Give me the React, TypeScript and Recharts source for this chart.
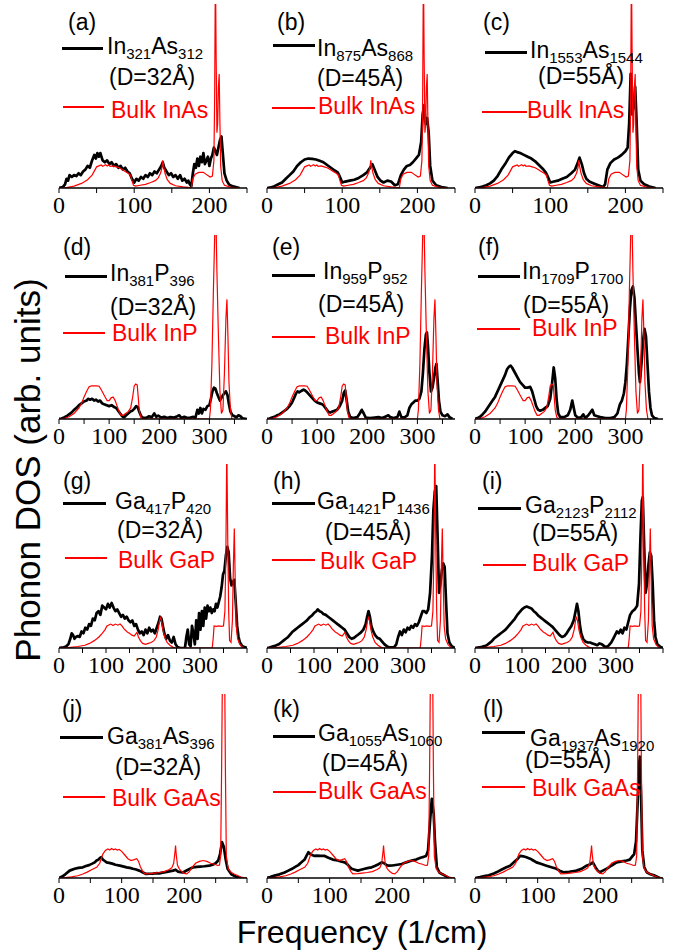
import { LineChart, Line, XAxis, YAxis } from "recharts";

// ---- data: [frequency (1/cm), DOS (fraction of panel height)] ----
const bulkInAs = [[0,0],[10,0.002],[20,0.01],[30,0.025],[38,0.045],[44,0.07],[48,0.1],[50,0.115],[53,0.12],[56,0.125],[58,0.118],[60,0.122],[62,0.127],[64,0.12],[66,0.125],[68,0.118],[72,0.12],[76,0.115],[80,0.11],[84,0.1],[88,0.09],[92,0.08],[95,0.07],[97,0.04],[99,0.015],[102,0.01],[108,0.015],[115,0.02],[122,0.03],[128,0.04],[132,0.055],[135,0.08],[137,0.11],[138,0.15],[139,0.12],[141,0.08],[144,0.045],[148,0.025],[155,0.012],[165,0.006],[172,0.003],[176,0.002],[178,0.05],[181,0.075],[186,0.085],[192,0.085],[197,0.07],[201,0.06],[204,0.065],[206,0.15],[207,0.5],[208,1.2],[209,0.7],[210,0.3],[211,0.35],[212,0.55],[213,0.62],[214,0.35],[215,0.12],[217,0.04],[220,0.015],[228,0.005],[240,0]];
const inAs32 = [[0,0],[5,0.005],[8,0.02],[10,0.05],[12,0.04],[14,0.07],[17,0.06],[20,0.07],[23,0.065],[26,0.08],[29,0.07],[32,0.09],[35,0.1],[38,0.12],[41,0.11],[44,0.15],[47,0.18],[49,0.16],[51,0.19],[53,0.17],[55,0.19],[58,0.15],[61,0.14],[64,0.15],[67,0.13],[70,0.14],[73,0.12],[76,0.13],[79,0.11],[82,0.12],[85,0.1],[88,0.11],[91,0.09],[94,0.08],[97,0.05],[100,0.03],[103,0.05],[106,0.04],[109,0.06],[112,0.05],[115,0.07],[118,0.06],[121,0.08],[124,0.07],[127,0.09],[130,0.08],[133,0.1],[136,0.12],[138,0.14],[140,0.11],[143,0.09],[146,0.07],[149,0.08],[152,0.06],[155,0.07],[158,0.05],[161,0.07],[164,0.04],[167,0.05],[170,0.03],[172,0.04],[174,0.02],[176,0.01],[178,0.08],[180,0.13],[182,0.11],[184,0.16],[186,0.12],[188,0.17],[190,0.14],[192,0.19],[194,0.13],[196,0.15],[198,0.17],[200,0.12],[202,0.16],[204,0.18],[206,0.22],[208,0.2],[210,0.18],[212,0.22],[214,0.26],[216,0.28],[218,0.18],[220,0.08],[223,0.04],[226,0.02],[230,0.01],[235,0.005],[240,0]];
const inAs45 = [[0,0],[5,0.003],[10,0.01],[15,0.02],[20,0.03],[25,0.05],[30,0.07],[35,0.09],[40,0.12],[45,0.14],[50,0.155],[55,0.16],[60,0.158],[65,0.155],[70,0.148],[75,0.14],[80,0.125],[85,0.11],[90,0.095],[94,0.085],[97,0.06],[100,0.03],[104,0.035],[110,0.04],[116,0.045],[122,0.055],[128,0.07],[133,0.085],[137,0.11],[140,0.13],[143,0.1],[147,0.06],[151,0.04],[155,0.03],[160,0.04],[165,0.035],[170,0.015],[174,0.02],[178,0.07],[182,0.1],[186,0.12],[190,0.125],[194,0.14],[198,0.16],[202,0.18],[205,0.25],[207,0.4],[209,0.45],[211,0.35],[213,0.38],[215,0.3],[217,0.12],[220,0.04],[225,0.015],[232,0.005],[240,0]];
const inAs55 = [[0,0],[5,0.003],[10,0.008],[15,0.015],[20,0.025],[25,0.04],[30,0.065],[35,0.1],[40,0.13],[45,0.165],[50,0.19],[53,0.2],[56,0.195],[60,0.19],[65,0.18],[70,0.17],[75,0.16],[80,0.145],[85,0.125],[90,0.105],[94,0.085],[97,0.06],[100,0.03],[105,0.035],[110,0.04],[116,0.05],[122,0.06],[128,0.08],[133,0.1],[136,0.13],[139,0.165],[142,0.13],[145,0.08],[148,0.05],[152,0.035],[158,0.025],[164,0.015],[170,0.005],[173,0.02],[176,0.1],[180,0.135],[185,0.155],[190,0.165],[195,0.18],[200,0.2],[203,0.22],[205,0.35],[207,0.62],[209,0.4],[211,0.45],[213,0.55],[215,0.35],[217,0.1],[220,0.04],[225,0.02],[232,0.008],[240,0]];

const bulkInP = [[0,0],[10,0.003],[20,0.012],[30,0.03],[40,0.06],[45,0.085],[50,0.12],[55,0.15],[60,0.175],[65,0.18],[70,0.18],[75,0.18],[80,0.178],[84,0.16],[88,0.14],[92,0.12],[96,0.1],[100,0.1],[104,0.115],[108,0.12],[112,0.1],[116,0.07],[120,0.04],[124,0.02],[128,0.02],[133,0.03],[138,0.04],[143,0.06],[147,0.12],[150,0.18],[153,0.19],[156,0.185],[158,0.12],[160,0.05],[163,0.01],[168,0],[300,0],[302,0.05],[305,0.3],[308,0.7],[311,1.05],[313,1.1],[315,0.8],[318,0.45],[321,0.15],[324,0.03],[327,0.05],[330,0.25],[333,0.55],[335,0.65],[337,0.45],[339,0.2],[342,0.05],[345,0]];
const inP32 = [[0,0],[5,0.003],[10,0.008],[15,0.015],[20,0.025],[25,0.035],[30,0.05],[35,0.06],[40,0.075],[45,0.085],[50,0.095],[55,0.1],[58,0.11],[62,0.105],[66,0.11],[70,0.1],[74,0.105],[78,0.095],[82,0.1],[86,0.085],[90,0.08],[95,0.075],[100,0.07],[105,0.075],[110,0.065],[114,0.06],[118,0.045],[122,0.03],[126,0.015],[130,0.01],[134,0.02],[138,0.03],[142,0.04],[146,0.045],[150,0.055],[154,0.07],[157,0.065],[160,0.04],[164,0.015],[168,0.005],[175,0.008],[180,0.015],[185,0.01],[190,0.03],[194,0.012],[198,0.018],[204,0.008],[210,0.012],[216,0.005],[222,0.01],[230,0.008],[236,0.015],[240,0.02],[244,0.005],[250,0.012],[256,0.005],[262,0.008],[268,0.012],[272,0.005],[276,0.05],[279,0.03],[282,0.06],[285,0.03],[288,0.055],[292,0.05],[296,0.07],[300,0.075],[303,0.11],[306,0.15],[309,0.17],[312,0.165],[315,0.14],[318,0.12],[321,0.1],[324,0.115],[327,0.13],[330,0.14],[333,0.15],[336,0.13],[339,0.08],[342,0.04],[346,0.02],[350,0.015],[354,0.01],[358,0.02],[362,0.015],[366,0.003],[375,0]];
const inP45 = [[0,0],[5,0.003],[10,0.008],[15,0.012],[20,0.02],[25,0.025],[30,0.035],[35,0.045],[40,0.055],[45,0.07],[50,0.09],[55,0.12],[58,0.14],[61,0.15],[64,0.145],[67,0.15],[70,0.155],[73,0.16],[76,0.155],[80,0.145],[85,0.13],[90,0.115],[95,0.1],[100,0.09],[105,0.085],[110,0.08],[114,0.07],[118,0.055],[122,0.04],[126,0.035],[130,0.04],[135,0.045],[140,0.05],[145,0.07],[150,0.1],[153,0.14],[156,0.155],[159,0.1],[162,0.04],[166,0.01],[172,0.005],[180,0.01],[185,0.03],[189,0.05],[193,0.03],[197,0.008],[205,0.005],[215,0.008],[222,0.01],[230,0.005],[238,0.015],[242,0.02],[246,0.01],[252,0.005],[260,0.01],[264,0.04],[268,0.01],[274,0.008],[280,0.02],[284,0.06],[288,0.08],[292,0.09],[296,0.1],[300,0.1],[304,0.11],[308,0.15],[311,0.25],[314,0.38],[317,0.46],[319,0.47],[321,0.4],[324,0.25],[327,0.15],[330,0.17],[333,0.22],[336,0.28],[338,0.3],[340,0.22],[343,0.1],[346,0.04],[350,0.02],[355,0.015],[360,0.025],[364,0.01],[370,0]];
const inP55 = [[0,0],[5,0.005],[10,0.012],[15,0.025],[20,0.04],[25,0.06],[30,0.08],[35,0.1],[40,0.12],[45,0.15],[50,0.18],[55,0.21],[60,0.24],[64,0.27],[68,0.285],[71,0.29],[74,0.28],[77,0.265],[80,0.25],[85,0.225],[90,0.2],[95,0.185],[100,0.17],[105,0.17],[110,0.175],[114,0.15],[118,0.11],[122,0.07],[126,0.05],[130,0.045],[135,0.05],[140,0.06],[145,0.07],[150,0.11],[154,0.2],[157,0.28],[160,0.22],[163,0.1],[166,0.03],[170,0.01],[178,0.01],[185,0.02],[190,0.05],[194,0.1],[197,0.06],[200,0.02],[206,0.005],[212,0.01],[216,0.025],[220,0.005],[226,0.02],[230,0.035],[234,0.05],[238,0.02],[244,0.015],[250,0.01],[260,0.005],[270,0.005],[278,0.01],[284,0.03],[289,0.08],[293,0.1],[297,0.14],[300,0.2],[303,0.3],[306,0.45],[309,0.6],[312,0.7],[315,0.72],[318,0.66],[321,0.52],[324,0.38],[327,0.25],[329,0.2],[332,0.3],[335,0.42],[338,0.49],[341,0.45],[344,0.3],[347,0.15],[350,0.06],[353,0.02],[358,0.005],[365,0]];

const bulkGaP = [[0,0],[20,0.002],[40,0.008],[55,0.015],[65,0.025],[75,0.04],[85,0.06],[92,0.08],[98,0.1],[102,0.12],[106,0.125],[110,0.13],[115,0.122],[120,0.13],[125,0.124],[130,0.13],[134,0.12],[138,0.105],[142,0.095],[146,0.085],[150,0.08],[155,0.07],[160,0.065],[163,0.075],[166,0.085],[169,0.06],[173,0.04],[178,0.025],[184,0.02],[190,0.025],[196,0.03],[202,0.04],[207,0.06],[211,0.1],[214,0.15],[216,0.165],[218,0.15],[221,0.1],[225,0.06],[230,0.03],[236,0.015],[242,0.005],[248,0],[326,0],[328,0.05],[330,0.12],[335,0.118],[340,0.12],[345,0.118],[350,0.12],[353,0.2],[355,0.5],[357,1.1],[359,0.6],[361,0.2],[363,0.04],[366,0.03],[369,0.15],[371,0.45],[373,0.65],[375,0.35],[377,0.12],[380,0.05],[385,0.02],[392,0]];
const gaP32 = [[0,0],[5,0.002],[10,0.004],[15,0.008],[20,0.02],[24,0.05],[27,0.08],[30,0.07],[33,0.05],[36,0.06],[40,0.065],[44,0.06],[48,0.09],[52,0.08],[56,0.11],[60,0.1],[64,0.13],[68,0.12],[72,0.16],[76,0.15],[80,0.19],[84,0.2],[88,0.18],[92,0.23],[96,0.22],[100,0.21],[104,0.24],[108,0.22],[112,0.245],[116,0.22],[120,0.2],[124,0.21],[128,0.19],[132,0.17],[136,0.18],[140,0.16],[144,0.17],[148,0.15],[152,0.14],[156,0.15],[160,0.12],[164,0.13],[168,0.1],[172,0.08],[176,0.09],[180,0.07],[184,0.1],[188,0.08],[192,0.11],[196,0.09],[200,0.1],[204,0.08],[208,0.11],[212,0.14],[215,0.17],[218,0.16],[221,0.12],[224,0.08],[228,0.05],[232,0.07],[236,0.04],[240,0.03],[244,0.06],[248,0.02],[252,0.005],[258,0],[268,0],[271,0.06],[274,0.1],[277,0.02],[280,0.01],[283,0.12],[286,0.08],[289,0.02],[292,0.15],[295,0.05],[298,0.19],[301,0.1],[304,0.2],[307,0.12],[310,0.22],[313,0.16],[316,0.23],[319,0.2],[322,0.22],[325,0.19],[328,0.21],[331,0.2],[334,0.24],[337,0.22],[340,0.25],[343,0.28],[346,0.33],[349,0.4],[352,0.42],[355,0.5],[358,0.55],[361,0.52],[364,0.38],[367,0.34],[370,0.36],[373,0.37],[376,0.25],[379,0.12],[382,0.06],[385,0.03],[390,0.01],[400,0]];
const gaP45 = [[0,0],[5,0.002],[10,0.006],[15,0.01],[20,0.015],[25,0.02],[30,0.03],[35,0.04],[40,0.05],[45,0.06],[50,0.075],[55,0.09],[60,0.1],[65,0.11],[70,0.12],[75,0.13],[80,0.14],[85,0.15],[90,0.165],[95,0.175],[100,0.19],[105,0.2],[108,0.21],[112,0.2],[116,0.195],[120,0.185],[125,0.18],[130,0.17],[135,0.16],[140,0.15],[145,0.14],[150,0.13],[155,0.12],[160,0.11],[165,0.1],[170,0.08],[175,0.06],[180,0.05],[185,0.055],[190,0.065],[195,0.075],[200,0.085],[205,0.1],[210,0.13],[213,0.17],[216,0.2],[219,0.17],[222,0.12],[226,0.09],[230,0.07],[235,0.055],[240,0.05],[245,0.035],[250,0.02],[255,0.01],[260,0.003],[270,0.003],[275,0.02],[279,0.06],[283,0.09],[287,0.07],[291,0.1],[295,0.085],[299,0.11],[303,0.1],[307,0.12],[311,0.11],[315,0.13],[319,0.12],[323,0.14],[327,0.17],[331,0.2],[335,0.2],[339,0.19],[343,0.21],[347,0.3],[351,0.5],[354,0.75],[357,0.85],[360,0.88],[363,0.6],[366,0.3],[369,0.35],[372,0.42],[375,0.46],[378,0.44],[381,0.25],[384,0.08],[388,0.03],[393,0.01],[400,0]];
const gaP55 = [[0,0],[5,0.002],[10,0.004],[15,0.006],[20,0.01],[25,0.015],[30,0.025],[35,0.035],[40,0.05],[45,0.06],[50,0.07],[55,0.08],[60,0.09],[65,0.1],[70,0.115],[75,0.13],[80,0.145],[85,0.16],[90,0.18],[95,0.195],[100,0.21],[105,0.22],[110,0.225],[115,0.22],[120,0.215],[125,0.2],[130,0.19],[135,0.175],[140,0.165],[145,0.155],[150,0.145],[155,0.135],[160,0.125],[165,0.115],[170,0.1],[175,0.085],[180,0.07],[185,0.06],[190,0.065],[195,0.08],[200,0.1],[205,0.12],[210,0.15],[214,0.2],[217,0.24],[220,0.2],[223,0.13],[226,0.08],[230,0.05],[235,0.035],[240,0.03],[245,0.03],[250,0.025],[255,0.02],[260,0.015],[265,0.025],[270,0.02],[275,0.01],[280,0.005],[285,0.015],[290,0.03],[294,0.05],[298,0.07],[302,0.09],[306,0.08],[310,0.1],[314,0.08],[318,0.11],[322,0.1],[326,0.14],[330,0.18],[335,0.2],[340,0.21],[345,0.23],[349,0.35],[352,0.6],[355,0.8],[357,0.82],[360,0.55],[363,0.3],[366,0.35],[369,0.45],[372,0.52],[375,0.5],[378,0.35],[381,0.15],[384,0.06],[388,0.02],[395,0.005],[400,0]];

const bulkGaAs = [[0,0],[10,0.002],[20,0.006],[30,0.012],[38,0.022],[45,0.032],[52,0.045],[60,0.058],[65,0.08],[70,0.13],[74,0.15],[78,0.158],[81,0.152],[84,0.16],[87,0.153],[90,0.158],[93,0.152],[96,0.155],[100,0.145],[105,0.125],[110,0.105],[115,0.095],[120,0.1],[124,0.105],[127,0.09],[130,0.06],[134,0.035],[137,0.022],[145,0.024],[152,0.027],[160,0.03],[168,0.035],[175,0.045],[180,0.055],[183,0.08],[185,0.14],[186,0.176],[187,0.13],[189,0.07],[192,0.05],[196,0.035],[200,0.025],[204,0.022],[208,0.035],[213,0.06],[218,0.08],[224,0.09],[230,0.095],[236,0.09],[242,0.08],[248,0.075],[253,0.068],[256,0.07],[258,0.12],[259.5,0.6],[261,1.2],[264,1.3],[265.5,0.6],[267,0.12],[270,0.05],[274,0.032],[280,0.02],[286,0.012],[292,0.003],[300,0]];
const gaAs32 = [[0,0],[5,0.008],[10,0.02],[17,0.04],[25,0.05],[31,0.055],[38,0.058],[43,0.065],[48,0.07],[53,0.078],[57,0.085],[60,0.095],[63,0.1],[65,0.108],[67.5,0.113],[70,0.1],[72,0.095],[76,0.085],[80,0.082],[85,0.078],[90,0.072],[97,0.067],[102,0.063],[108,0.058],[113,0.055],[118,0.05],[123,0.046],[128,0.04],[131,0.035],[134,0.03],[139,0.022],[145,0.023],[150,0.024],[155,0.026],[160,0.025],[165,0.029],[170,0.032],[176,0.036],[182,0.04],[186,0.045],[190,0.035],[194,0.032],[198,0.03],[202,0.038],[206,0.045],[210,0.052],[214,0.058],[220,0.06],[225,0.062],[232,0.064],[240,0.067],[245,0.072],[250,0.08],[254,0.095],[257,0.13],[260,0.195],[263,0.17],[266,0.1],[269,0.05],[275,0.02],[282,0.008],[290,0]];
const gaAs45 = [[0,0],[5,0.005],[12,0.013],[20,0.02],[28,0.03],[34,0.04],[40,0.05],[45,0.06],[50,0.07],[55,0.085],[60,0.1],[63,0.12],[66,0.14],[69,0.13],[72,0.125],[76,0.12],[80,0.122],[85,0.12],[92,0.12],[98,0.11],[105,0.1],[113,0.095],[118,0.09],[124,0.085],[128,0.075],[132,0.06],[135,0.05],[140,0.045],[145,0.04],[150,0.045],[156,0.05],[162,0.055],[167,0.058],[172,0.065],[178,0.075],[183,0.085],[187,0.08],[191,0.07],[194,0.067],[200,0.068],[208,0.072],[215,0.076],[222,0.085],[231,0.095],[238,0.1],[245,0.11],[250,0.115],[254,0.12],[257,0.15],[260,0.3],[263,0.43],[266,0.35],[268,0.2],[271,0.06],[275,0.03],[280,0.02],[284,0.013],[290,0]];
const gaAs55 = [[0,0],[8,0.005],[15,0.01],[22,0.015],[30,0.025],[35,0.032],[42,0.045],[50,0.058],[56,0.067],[62,0.085],[67,0.1],[72,0.12],[77,0.118],[82,0.113],[88,0.105],[93,0.095],[98,0.085],[105,0.077],[114,0.067],[122,0.058],[130,0.05],[135,0.04],[141,0.031],[150,0.034],[158,0.038],[162,0.04],[170,0.05],[178,0.067],[184,0.075],[188,0.085],[192,0.06],[196,0.04],[199,0.031],[204,0.04],[210,0.05],[218,0.068],[226,0.085],[234,0.09],[242,0.095],[247,0.1],[250,0.113],[254,0.13],[257,0.2],[260,0.45],[262,0.62],[263,0.66],[265,0.45],[267,0.15],[270,0.06],[274,0.031],[280,0.02],[287,0.013],[295,0]];

// ---- labels ----
const tags = ["(a)", "(b)", "(c)", "(d)", "(e)", "(f)", "(g)", "(h)", "(i)", "(j)", "(k)", "(l)"];
const formulas = [
  ["In", "321", "As", "312"], ["In", "875", "As", "868"], ["In", "1553", "As", "1544"],
  ["In", "381", "P", "396"], ["In", "959", "P", "952"], ["In", "1709", "P", "1700"],
  ["Ga", "417", "P", "420"], ["Ga", "1421", "P", "1436"], ["Ga", "2123", "P", "2112"],
  ["Ga", "381", "As", "396"], ["Ga", "1055", "As", "1060"], ["Ga", "1937", "As", "1920"],
];
const diameters = ["(D=32Å)", "(D=45Å)", "(D=55Å)"];
const bulkNames = ["Bulk InAs", "Bulk InP", "Bulk GaP", "Bulk GaAs"];
const clusters = [inAs32, inAs45, inAs55, inP32, inP45, inP55, gaP32, gaP45, gaP55, gaAs32, gaAs45, gaAs55];
const bulks = [bulkInAs, bulkInP, bulkGaP, bulkGaAs];
const rowMax = [250, 375, 400, 300];
const rowLabelMax = [200, 300, 300, 200];

// ---- layout ----
const PW = 188;
const PH = 184;
const COL_X = [59, 267, 475];
const ROW_Y = [4, 235, 464, 694];
const PAD = 14;
// legend offsets inside each plot: tag, black line, formula, D, red line, bulk
const legendPos = [
  { tag: [9, 7], bl: [3, 44, 41], fo: [48, 31], d: [50, 62], rl: [4, 103, 41], bu: [52, 95] },
  { tag: [10, 7], bl: [6, 41, 42], fo: [50, 33], d: [50, 63], rl: [5, 104, 43], bu: [51, 91] },
  { tag: [8, 7], bl: [10, 48, 42], fo: [55, 35], d: [63, 61], rl: [7, 108, 45], bu: [52, 95] },
  { tag: [4, 1], bl: [6, 41, 42], fo: [51, 27], d: [51, 61], rl: [4, 98, 42], bu: [53, 87] },
  { tag: [5, 1], bl: [5, 40, 43], fo: [56, 25], d: [51, 58], rl: [5, 102, 43], bu: [58, 90] },
  { tag: [3, 1], bl: [3, 41, 42], fo: [47, 25], d: [48, 59], rl: [2, 94, 43], bu: [57, 82] },
  { tag: [4, 6], bl: [4, 39, 43], fo: [56, 26], d: [58, 55], rl: [6, 94, 42], bu: [59, 85] },
  { tag: [6, 6], bl: [5, 39, 43], fo: [50, 26], d: [58, 57], rl: [5, 96, 43], bu: [53, 86] },
  { tag: [7, 6], bl: [3, 44, 43], fo: [50, 30], d: [57, 58], rl: [8, 101, 43], bu: [57, 88] },
  { tag: [3, 4], bl: [1, 43, 43], fo: [48, 31], d: [56, 62], rl: [4, 103, 42], bu: [53, 93] },
  { tag: [6, 4], bl: [6, 42, 42], fo: [51, 28], d: [55, 58], rl: [6, 98, 43], bu: [51, 86] },
  { tag: [8, 4], bl: [7, 38, 43], fo: [55, 33], d: [50, 55], rl: [7, 93, 43], bu: [57, 83] },
];

const SANS = "'Liberation Sans', Arial, sans-serif";
const SERIF = "'Liberation Serif', 'Times New Roman', serif";

const toPts = (a: number[][]) => a.map(([x, y]) => ({ x, y }));

function textStyle(x: number, y: number, color: string): React.CSSProperties {
  return {
    position: "absolute", left: x, top: y, fontFamily: SANS, fontSize: 23,
    lineHeight: "23px", color, whiteSpace: "nowrap",
  };
}

function Panel({ i }: { i: number }) {
  const row = Math.floor(i / 3);
  const col = i % 3;
  const max = rowMax[row];
  const ticks: number[] = [];
  for (let t = 0; t <= max; t += 50) ticks.push(t);
  const lp = legendPos[i];
  const f = formulas[i];
  const sub: React.CSSProperties = { fontSize: 15, position: "relative", top: 5 };
  const frame = { stroke: "#000", strokeWidth: 1.3 };
  return (
    <div style={{ position: "absolute", left: COL_X[col], top: ROW_Y[row], width: PW, height: PH }}>
      <div style={{ position: "absolute", left: -PAD, top: -PAD }}>
        <LineChart width={PW + 2 * PAD} height={PH + PAD + 50} margin={{ top: PAD, right: PAD, left: PAD, bottom: 0 }}>
          <XAxis
            xAxisId="b" type="number" dataKey="x" domain={[0, max]} ticks={ticks} interval={0}
            allowDataOverflow height={50} tickSize={5} tickMargin={3}
            tickFormatter={(v: number) => (v % 100 === 0 && v <= rowLabelMax[row] ? String(v) : "")}
            tick={{ fill: "#000", fontSize: 24, fontFamily: SERIF }}
            tickLine={{ stroke: "#000" }} axisLine={frame}
          />
          <XAxis xAxisId="t" orientation="top" type="number" domain={[0, max]} height={0} tick={false} tickLine={false} axisLine={frame} />
          <YAxis yAxisId="l" type="number" domain={[0, 1]} allowDataOverflow width={0} tick={false} tickLine={false} axisLine={frame} />
          <YAxis yAxisId="r" orientation="right" type="number" domain={[0, 1]} width={0} tick={false} tickLine={false} axisLine={frame} />
          <Line xAxisId="b" yAxisId="l" data={toPts(clusters[i])} dataKey="y" type="linear" stroke="#000" strokeWidth={2.7} strokeLinejoin="round" dot={false} isAnimationActive={false} />
          <Line xAxisId="b" yAxisId="l" data={toPts(bulks[row])} dataKey="y" type="linear" stroke="#ff0000" strokeWidth={1.2} dot={false} isAnimationActive={false} />
        </LineChart>
      </div>
      <div style={textStyle(lp.tag[0], lp.tag[1], "#000")}>{tags[i]}</div>
      <div style={{ position: "absolute", left: lp.bl[0], top: lp.bl[1] - 1.5, width: lp.bl[2], height: 3, background: "#000" }} />
      <div style={textStyle(lp.fo[0], lp.fo[1], "#000")}>
        {f[0]}<span style={sub}>{f[1]}</span>{f[2]}<span style={sub}>{f[3]}</span>
      </div>
      <div style={textStyle(lp.d[0], lp.d[1], "#000")}>{diameters[col]}</div>
      <div style={{ position: "absolute", left: lp.rl[0], top: lp.rl[1] - 0.75, width: lp.rl[2], height: 1.5, background: "#ff0000" }} />
      <div style={textStyle(lp.bu[0], lp.bu[1], "#ff0000")}>{bulkNames[row]}</div>
    </div>
  );
}

export default function App() {
  return (
    <div style={{ position: "absolute", left: 0, top: 0, width: 686, height: 951, background: "#fff", overflow: "hidden" }}>
      {tags.map((_, i) => <Panel key={i} i={i} />)}
      <div
        style={{
          position: "absolute", left: 28 - 250, top: 470 - 18, width: 500, height: 36,
          textAlign: "center", fontFamily: SANS, fontSize: 35, lineHeight: "36px",
          transform: "rotate(-90deg)", whiteSpace: "nowrap",
        }}
      >
        Phonon DOS (arb. units)
      </div>
      <div
        style={{
          position: "absolute", left: 362 - 200, top: 916, width: 400, textAlign: "center",
          fontFamily: SANS, fontSize: 32, lineHeight: "32px", whiteSpace: "nowrap",
        }}
      >
        Frequency (1/cm)
      </div>
    </div>
  );
}
